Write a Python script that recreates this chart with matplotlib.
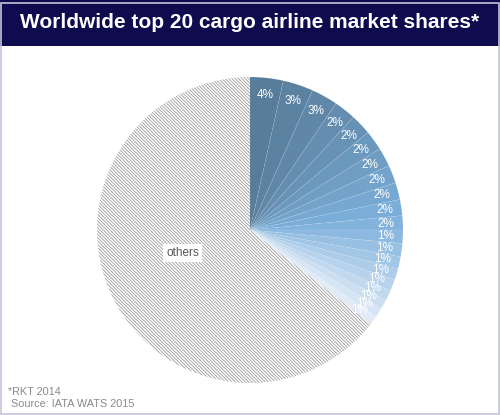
import matplotlib.pyplot as plt
import matplotlib.patches as mpatches
from matplotlib.colors import LinearSegmentedColormap

plt.rcParams['font.family'] = ['Liberation Sans', 'DejaVu Sans']
plt.rcParams['hatch.linewidth'] = 0.6

# market shares (%) of the top 20 cargo airlines, RKT 2014
shares = [3.5, 3.2, 2.8, 2.3, 2.2, 2.1, 2.0, 1.9, 1.8, 1.7,
          1.5, 1.4, 1.4, 1.3, 1.2, 1.2, 1.1, 1.0, 1.0, 0.9]
others = 100 - sum(shares)
title = "Worldwide top 20 cargo airline market shares*"
note1 = "*RKT 2014"
note2 = " Source: IATA WATS 2015"

W, H = 500, 415
fig = plt.figure(figsize=(W / 100, H / 100), dpi=100)
fig.patch.set_facecolor('white')

# title bar + frame
fig.patches.append(mpatches.Rectangle((0, 1 - 46 / H), 1, 46 / H, transform=fig.transFigure,
                                      facecolor='#0e0b4f', edgecolor='none', zorder=0))
fig.patches.append(mpatches.Rectangle((0.001, 0.003), 0.996, 0.99, transform=fig.transFigure,
                                      facecolor='none', edgecolor='#c4c4d8', lw=1.2, zorder=5))
fig.text(0.5, 1 - 22 / H, title, color='white', fontsize=15, fontweight='bold',
         ha='center', va='center')

cx, cy, r = 250, 230, 153
ax = fig.add_axes([(cx - r) / W, (H - cy - r) / H, 2 * r / W, 2 * r / H])

cmap = LinearSegmentedColormap.from_list('blues', ['#587d9b', '#7db0dc', '#e0ebf7'])
colors = [cmap(i / (len(shares) - 1)) for i in range(len(shares))] + ['white']

n = len(shares)
wedges, texts, autotexts = ax.pie(
    shares + [others], colors=colors, startangle=90, counterclock=False,
    autopct=lambda p: '', pctdistance=0.89,
    wedgeprops=dict(linewidth=0.3, edgecolor=(1, 1, 1, 0.18)))

for i, t in enumerate(autotexts[:n]):
    t.set_text(f"{int(shares[i] + 0.5)}%")
    t.set_color('white')
    t.set_fontsize(8.5)

ow = wedges[-1]
ow.set_hatch('\\' * 10)
ow.set_edgecolor('#9a9a9a')
ow.set_linewidth(0)

ax.text(-0.44, -0.15, "others", ha='center', va='center', fontsize=8.5, color='#555555',
        bbox=dict(facecolor='white', edgecolor='none', pad=2))

ax.set_xlim(-1, 1)
ax.set_ylim(-1, 1)
ax.axis('off')

fig.text(8 / W, 1 - 392 / H, note1, fontsize=7.8, color='#8a8a8a', va='center')
fig.text(8 / W, 1 - 404 / H, note2, fontsize=7.8, color='#8a8a8a', va='center')

fig.savefig('out.png', dpi=100)
